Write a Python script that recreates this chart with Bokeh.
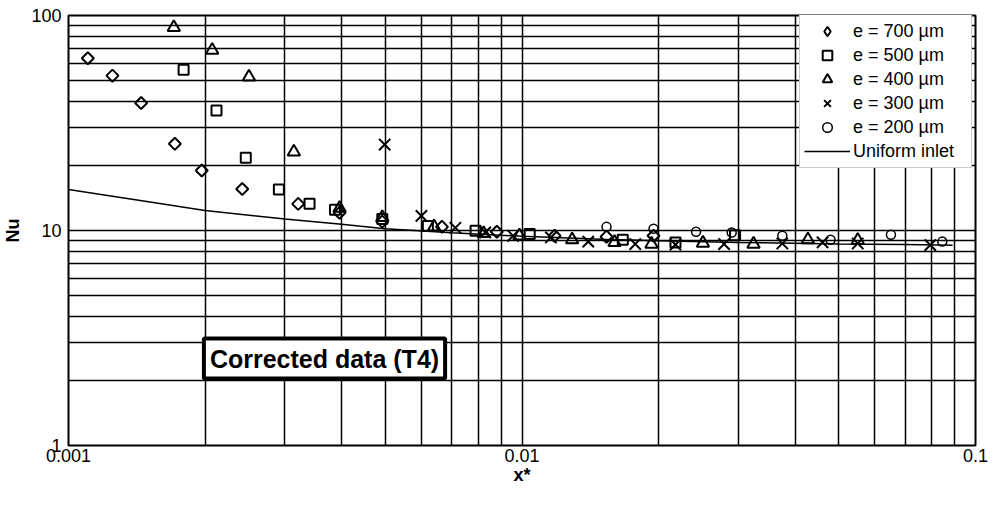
import numpy as np
from bokeh.plotting import figure
from bokeh.models import (Range1d, FixedTicker, CustomJSTickFormatter, Legend,
                          LegendItem, Label)
from bokeh.embed import file_html
from bokeh.resources import INLINE

# ---------------- data ----------------
x_700 = [0.001103, 0.00125, 0.001446, 0.001716, 0.001967, 0.002416, 0.00321, 0.00396,
         0.00492, 0.00666, 0.0088, 0.0118, 0.01536, 0.0195]
nu_700 = [63.3, 52.5, 39.2, 25.3, 19.0, 15.6, 13.3, 12.1,
          11.0, 10.4, 9.86, 9.45, 9.36, 9.45]

x_500 = [0.001794, 0.00212, 0.00246, 0.00291, 0.0034, 0.00387, 0.00492, 0.0062,
         0.0079, 0.0104, 0.01668, 0.0218, 0.0295]
nu_500 = [56.0, 36.2, 21.8, 15.5, 13.3, 12.5, 11.3, 10.5,
          9.97, 9.62, 9.06, 8.8, 9.5]

x_400 = [0.001707, 0.002074, 0.0025, 0.00314, 0.00396, 0.00492, 0.0064, 0.00823,
         0.00987, 0.0129, 0.016, 0.0193, 0.02506, 0.0324, 0.0427, 0.055]
nu_400 = [88.0, 69.0, 51.8, 23.2, 12.7, 11.5, 10.4, 9.7,
          9.45, 9.06, 8.81, 8.65, 8.74, 8.65, 9.06, 9.0]

x_300 = [0.00498, 0.0060, 0.00713, 0.0083, 0.00956, 0.01158, 0.014, 0.01777,
         0.0218, 0.0279, 0.0375, 0.046, 0.055, 0.0795]
nu_300 = [25.1, 11.7, 10.3, 9.8, 9.45, 9.29, 8.88, 8.65,
          8.6, 8.65, 8.7, 8.81, 8.7, 8.56]

x_200 = [0.01536, 0.0195, 0.0242, 0.029, 0.0375, 0.0479, 0.0651, 0.0845]
nu_200 = [10.4, 10.2, 9.86, 9.79, 9.45, 9.06, 9.56, 8.88]

curve_x = [0.001, 0.0015, 0.002, 0.003, 0.004, 0.005, 0.007, 0.01,
           0.015, 0.02, 0.03, 0.05, 0.07, 0.089]
curve_nu = [15.5, 13.6, 12.4, 11.3, 10.7, 10.2, 9.75, 9.4,
            9.1, 8.95, 8.8, 8.65, 8.6, 8.55]

x_major = [0.001, 0.01, 0.1]
x_minor = [0.002, 0.003, 0.004, 0.005, 0.006, 0.007, 0.008, 0.009,
           0.02, 0.03, 0.04, 0.05, 0.06, 0.07, 0.08, 0.09]
y_major = [1, 10, 100]
y_minor = [2, 3, 4, 5, 6, 7, 8, 9, 20, 30, 40, 50, 60, 70, 80, 90]

labels = ["e = 700 µm", "e = 500 µm", "e = 400 µm", "e = 300 µm", "e = 200 µm",
          "Uniform inlet"]
annotation_text = "Corrected data (T4)"

FONT = "Liberation Sans"

# ---------------- figure ----------------
p = figure(width=989, height=489, x_axis_type="log", y_axis_type="log",
           x_range=Range1d(0.001, 0.1), y_range=Range1d(1, 100),
           output_backend="svg", toolbar_location=None,
           min_border_left=67, min_border_right=14, min_border_top=15,
           min_border_bottom=44)
p.background_fill_color = "white"
p.border_fill_color = "white"
p.outline_line_color = "black"
p.outline_line_width = 2

xt = FixedTicker(ticks=x_major, minor_ticks=x_minor)
yt = FixedTicker(ticks=y_major, minor_ticks=y_minor)
p.xaxis.ticker = xt
p.yaxis.ticker = yt
p.xgrid.ticker = xt
p.ygrid.ticker = yt
p.xaxis.formatter = CustomJSTickFormatter(code="return tick.toString()")
p.yaxis.formatter = CustomJSTickFormatter(code="return tick.toString()")

for g in (p.xgrid, p.ygrid):
    g.grid_line_color = "black"
    g.grid_line_width = 1.5
    g.grid_line_alpha = 1.0
    g.minor_grid_line_color = "black"
    g.minor_grid_line_width = 1.5

for ax in (p.xaxis, p.yaxis):
    ax.axis_line_color = None
    ax.major_tick_line_color = None
    ax.minor_tick_line_color = None
    ax.major_tick_out = 0
    ax.minor_tick_out = 0
    ax.major_tick_in = 0
    ax.minor_tick_in = 0
    ax.major_label_text_font = FONT
    ax.major_label_text_font_size = "18px"
    ax.major_label_text_color = "black"
    ax.axis_label_text_font = FONT
    ax.axis_label_text_font_style = "bold"
    ax.axis_label_text_font_size = "18px"
    ax.axis_label_text_color = "black"

p.xaxis.axis_label = "x*"
p.xaxis.major_label_standoff = 3
p.xaxis.axis_label_standoff = 0
p.yaxis.axis_label = "Nu"
p.yaxis.major_label_standoff = 7
p.yaxis.axis_label_standoff = 5

# ---------------- glyphs ----------------
r_curve = p.line(curve_x, curve_nu, line_color="black", line_width=1.5)

r700 = p.scatter(x_700, nu_700, marker="square", angle=np.pi / 4, size=8.5,
                 fill_color="white", fill_alpha=0.0, line_color="black", line_width=2)
r500 = p.scatter(x_500, nu_500, marker="square", size=10,
                 fill_color="white", fill_alpha=0.0, line_color="black", line_width=2)
r400 = p.scatter(x_400, nu_400, marker="triangle", size=12.5,
                 fill_color="white", fill_alpha=0.0, line_color="black", line_width=2)
r300 = p.scatter(x_300, nu_300, marker="x", size=16,
                 line_color="black", line_width=2)
r200 = p.scatter(x_200, nu_200, marker="circle", size=9,
                 fill_color="white", fill_alpha=0.0, line_color="black", line_width=1.5)

# legend-only diamond swatch (the legend draws markers unrotated)
r700_key = p.scatter([np.nan], [np.nan], marker="diamond", size=12,
                     fill_color="white", fill_alpha=0.0, line_color="black",
                     line_width=2)

legend = Legend(items=[
    LegendItem(label=labels[0], renderers=[r700_key]),
    LegendItem(label=labels[1], renderers=[r500]),
    LegendItem(label=labels[2], renderers=[r400]),
    LegendItem(label=labels[3], renderers=[r300]),
    LegendItem(label=labels[4], renderers=[r200]),
    LegendItem(label=labels[5], renderers=[r_curve]),
], location=(731, 277))
legend.padding = 4
legend.spacing = 0
legend.margin = 0
legend.glyph_width = 46
legend.glyph_height = 24
legend.label_height = 24
legend.label_width = 114
legend.label_standoff = 3
legend.label_text_font = FONT
legend.label_text_font_size = "18px"
legend.label_text_color = "black"
legend.background_fill_color = "white"
legend.background_fill_alpha = 1.0
legend.border_line_color = "#999999"
legend.border_line_width = 1
p.add_layout(legend)

lab = Label(x=256, y=87, x_units="screen", y_units="screen", text=annotation_text,
            text_font=FONT, text_font_style="bold", text_font_size="25px",
            text_color="black", text_align="center", text_baseline="middle",
            background_fill_color="white", border_line_color="black",
            border_line_width=4, padding=6)
p.add_layout(lab)

open("out.html", "w").write(file_html(p, INLINE))
